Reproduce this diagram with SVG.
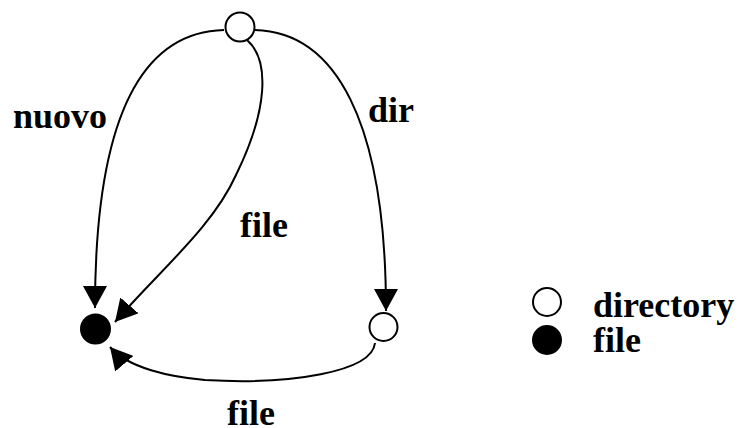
<svg xmlns="http://www.w3.org/2000/svg" width="740" height="428" viewBox="0 0 740 428">
<style>
.edge{fill:none;stroke:#000;stroke-width:2}
.node-open{fill:#fff;stroke:#000;stroke-width:2}
.node-fill{fill:#000;stroke:#000;stroke-width:2}
text{font-family:"Liberation Serif","Times New Roman",serif;font-size:36px;font-weight:bold;fill:#000}
</style>
<defs>
<marker id="arr" markerUnits="userSpaceOnUse" markerWidth="22" markerHeight="24" refX="22" refY="12" orient="auto" viewBox="0 0 22 24">
<path d="M0,0 L22,12 L0,24 z" fill="#000"/>
</marker>
</defs>
<rect width="740" height="428" fill="#fff"/>
<g id="connectors">
<path class="edge" d="M224,30 C140,32 95,120 95,308" marker-end="url(#arr)"/>
<path class="edge" d="M247,40 C270,60 268,110 236,175 C212,228 160,270 115,322" marker-end="url(#arr)"/>
<path class="edge" d="M255,30 C335,32 386,120 386,311" marker-end="url(#arr)"/>
<path class="edge" d="M375,343 C372,372 290,385 205,380 C170,377 128,368 110,347" marker-end="url(#arr)"/>
<text x="13" y="128">nuovo</text>
<text x="240" y="237">file</text>
<text x="368" y="122">dir</text>
<text x="227" y="425">file</text>
</g>
<g id="node-root"><circle class="node-open" cx="240" cy="27" r="14.5"/></g>
<g id="node-file"><circle class="node-fill" cx="95.5" cy="329" r="14.5"/></g>
<g id="node-dir"><circle class="node-open" cx="383.5" cy="327" r="14"/></g>
<g id="legend">
<circle class="node-open" cx="547" cy="302" r="14"/>
<circle class="node-fill" cx="547" cy="340" r="14"/>
<text x="593" y="317">directory</text>
<text x="593" y="352">file</text>
</g>
</svg>
